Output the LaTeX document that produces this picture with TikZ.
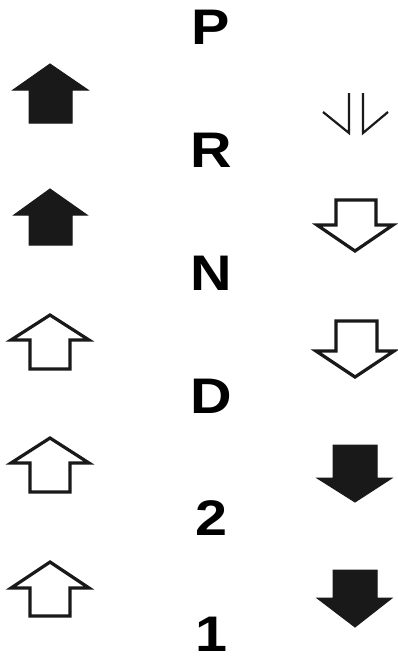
\documentclass[tikz,border=0pt]{standalone}
\usepackage{fontspec}
\setmainfont{Liberation Sans}
\begin{document}
\begin{tikzpicture}[x=1pt,y=-1pt,
  filledarrow/.style={fill=black!90,draw=black!90,line width=1pt,line join=miter},
  openarrow/.style={fill=white,draw=black!90,line width=3.2pt,line join=miter},
  thinarrow/.style={draw=black!90,line width=2.2pt},
  gear/.style={font=\fontsize{50}{50}\selectfont\bfseries,inner sep=0pt,anchor=north,xscale=1.15}]
\useasboundingbox (0,0) rectangle (398,661);
% gear letters
\node[gear] (P) at (211,10) {P};
\node[gear] (R) at (211,133) {R};
\node[gear] (N) at (211,256) {N};
\node[gear] (D) at (211,379) {D};
\node[gear] (two) at (211,500) {2};
\node[gear] (one) at (211,617) {1};
% left column: up arrows
\draw[filledarrow] (50,64) -- (88,90) -- (72,90) -- (72,123) -- (29,123) -- (29,90) -- (13,90) -- cycle;
\draw[filledarrow] (50,189) -- (87,215) -- (72,215) -- (72,245) -- (29,245) -- (29,215) -- (14,215) -- cycle;
\draw[openarrow] (50,315) -- (89,340) -- (70,340) -- (70,369) -- (30,369) -- (30,340) -- (11,340) -- cycle;
\draw[openarrow] (50,438) -- (89,463) -- (70,463) -- (70,492) -- (30,492) -- (30,463) -- (11,463) -- cycle;
\draw[openarrow] (50,562) -- (89,588) -- (70,588) -- (70,616) -- (30,616) -- (30,588) -- (11,588) -- cycle;
% right column: down arrows
\draw[thinarrow] (349,93) -- (349,133) -- (323,112);
\draw[thinarrow] (363,93) -- (363,133) -- (388,112);
\draw[openarrow] (336,200) -- (376,200) -- (376,225) -- (393,225) -- (355,251) -- (317,225) -- (336,225) -- cycle;
\draw[openarrow] (336,321) -- (377,321) -- (377,351) -- (394,351) -- (355,377) -- (316,351) -- (336,351) -- cycle;
\draw[filledarrow] (333,445) -- (377,445) -- (377,478) -- (392,478) -- (355,502) -- (317,478) -- (333,478) -- cycle;
\draw[filledarrow] (333,570) -- (377,570) -- (377,598) -- (392,598) -- (355,627) -- (317,598) -- (333,598) -- cycle;
\end{tikzpicture}
\end{document}
